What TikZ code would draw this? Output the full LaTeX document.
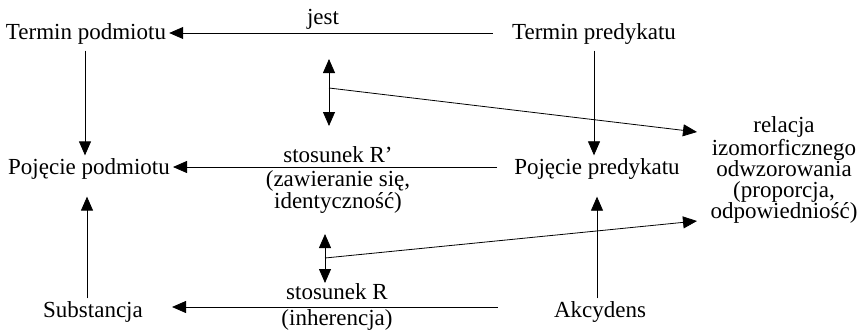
\documentclass[tikz,border=0pt]{standalone}
\usepackage{fontspec}
\setmainfont{Liberation Serif}
\usetikzlibrary{arrows.meta,calc}
\begin{document}
\begin{tikzpicture}[x=1pt,y=-1pt,
  font=\fontsize{23}{21}\selectfont,
  every node/.style={inner sep=3pt},
  head/.tip={Triangle[length=14pt,width=12pt]},
  conn/.style={line width=0.8pt,-head},
  dbl/.style={line width=0.8pt,head-head}]
\useasboundingbox (0,0) rectangle (858,329);

% terms, concepts and their ontological correlates
\node (tp)  at (86,34)   {Termin podmiotu};
\node (tpr) at (594,34)  {Termin predykatu};
\node (pp)  at (89,169)  {Pojęcie podmiotu};
\node (ppr) at (597,169) {Pojęcie predykatu};
\node (sub) at (93,312)  {Substancja};
\node (akc) at (600,312) {Akcydens};
\node[align=center] (rel) at (784,170)
  {relacja\\izomorficznego\\odwzorowania\\(proporcja,\\odpowiedniość)};

% relation labels
\node (jest) at (323,19)  {jest};
\node (r1)   at (338,155) {stosunek R’};
\node[align=center,font=\fontsize{23}{19}\selectfont] (r1b) at (338,192)
  {(zawieranie się,\\identyczność)};
\node (r2)   at (337,292) {stosunek R};
\node (r2b)  at (337,320) {(inherencja)};

% horizontal relations
\draw[conn,shorten <=16pt] ([yshift=1pt]tpr.west) -- ([yshift=1pt]tp.east);
\draw[conn,shorten <=14pt] ([yshift=2pt]ppr.west) -- ([yshift=2pt]pp.east);
\draw[conn,shorten <=53pt,shorten >=26pt] ([yshift=5pt]akc.west) -- ([yshift=5pt]sub.east);

% vertical relations
\draw[conn,shorten <=3pt] ([xshift=-1pt]tp.south) -- ([xshift=-1pt]tp.south |- pp.north);
\draw[conn,shorten <=3pt] (tpr.south) -- (tpr.south |- ppr.north);
\draw[conn,shorten >=14pt] ([xshift=-2pt]sub.north -| pp.south) -- ([xshift=-2pt]pp.south);
\draw[conn,shorten >=14pt] (akc.north -| ppr.south) -- (ppr.south);

% correspondence between the two levels
\coordinate (u1) at (329,59);
\coordinate (u2) at (329,126);
\coordinate (j1) at (329,88);
\coordinate (t1) at (697,132);
\coordinate (d1) at (325,234);
\coordinate (d2) at (325,283);
\coordinate (j2) at (325,258);
\coordinate (t2) at (697,221);
\draw[dbl] (u1) -- (u2);
\draw[dbl] (d1) -- (d2);
\draw[conn] (j1) -- (t1);
\draw[conn] (j2) -- (t2);
\end{tikzpicture}
\end{document}
